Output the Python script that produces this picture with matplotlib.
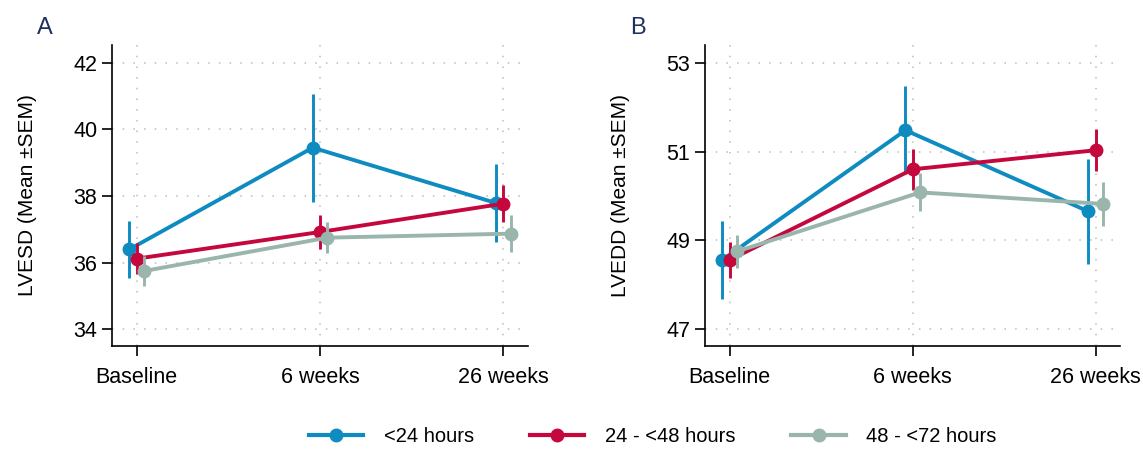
import numpy as np
import matplotlib
matplotlib.use("Agg")
import matplotlib.pyplot as plt
from matplotlib.lines import Line2D

plt.rcParams['font.family'] = ['Liberation Sans', 'DejaVu Sans']

timepoints = ['Baseline', '6 weeks', '26 weeks']
groups = ['<24 hours', '24 - <48 hours', '48 - <72 hours']
colors = ['#0e8bc0', '#c4083e', '#99b5ac']
offsets = [-0.04, 0.0, 0.04]

# LVESD mean and SEM per group
lvesd_mean = [[36.40, 39.45, 37.79],
              [36.12, 36.92, 37.77],
              [35.75, 36.75, 36.87]]
lvesd_sem = [[0.86, 1.62, 1.17],
             [0.46, 0.52, 0.55],
             [0.44, 0.47, 0.55]]

# LVEDD mean and SEM per group
lvedd_mean = [[48.56, 51.48, 49.65],
              [48.56, 50.60, 51.03],
              [48.75, 50.08, 49.82]]
lvedd_sem = [[0.88, 0.99, 1.18],
             [0.40, 0.46, 0.47],
             [0.38, 0.43, 0.49]]

fig = plt.figure(figsize=(11.43, 4.49), dpi=100)
ax_a = fig.add_axes([0.098, 0.2294, 0.3637, 0.6704])
ax_b = fig.add_axes([0.6168, 0.2294, 0.3632, 0.6704])


def draw_panel(ax, means, sems, ylabel, yticks, ylim, letter, letter_x):
    x = np.arange(len(timepoints))
    for i in range(len(groups)):
        xs = x + offsets[i]
        ax.errorbar(xs, means[i], yerr=sems[i], color=colors[i], lw=2.8,
                    elinewidth=2.1, capsize=0, marker='o', markersize=9,
                    zorder=3 + i)
    ax.set_xticks(x)
    ax.set_xticklabels(timepoints)
    ax.set_yticks(yticks)
    ax.set_xlim(-0.135, 2.133)
    ax.set_ylim(*ylim)
    ax.set_ylabel(ylabel, fontsize=15, labelpad=26)
    ax.tick_params(axis='both', labelsize=15.5, length=7, width=1.2,
                   direction='out', color='black')
    ax.tick_params(axis='x', pad=8)
    ax.grid(True, color='#bcbcbc', linestyle=(0, (1, 6)), linewidth=1.1)
    ax.set_axisbelow(True)
    for s in ['top', 'right']:
        ax.spines[s].set_visible(False)
    for s in ['left', 'bottom']:
        ax.spines[s].set_linewidth(1.2)
    ax.text(letter_x, 1.055, letter, transform=ax.transAxes, fontsize=17,
            color='#1f3060', ha='left', va='center')


draw_panel(ax_a, lvesd_mean, lvesd_sem, 'LVESD (Mean ±SEM)',
           [34, 36, 38, 40, 42], (33.5, 42.53), 'A', -0.18)
draw_panel(ax_b, lvedd_mean, lvedd_sem, 'LVEDD (Mean ±SEM)',
           [47, 49, 51, 53], (46.62, 53.4), 'B', -0.18)

handles = [Line2D([0], [0], color=c, lw=3, marker='o', markersize=9)
           for c in colors]
fig.legend(handles, groups, loc='center', bbox_to_anchor=(0.571, 0.027),
           ncol=3, frameon=False, fontsize=14.5, handlelength=2.7,
           columnspacing=2.8, handletextpad=1.0)

fig.savefig('out.png', dpi=100)
